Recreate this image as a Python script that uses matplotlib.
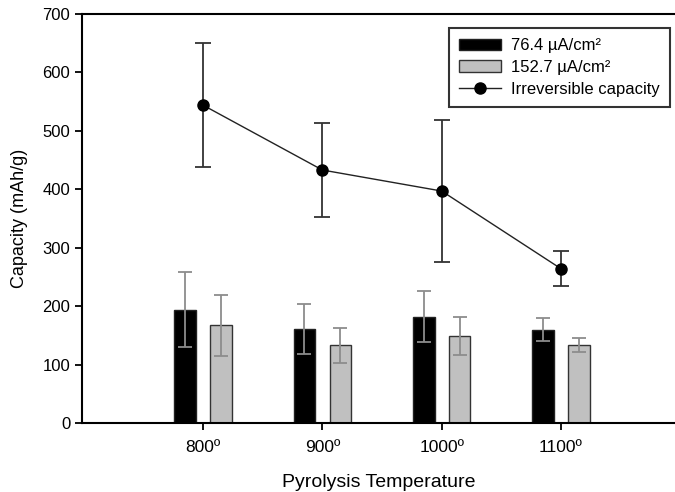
import matplotlib
matplotlib.use("Agg")
import matplotlib.pyplot as plt
import numpy as np

plt.rcParams["font.family"] = ["Liberation Sans", "DejaVu Sans"]

# ── Data ──────────────────────────────────────────────────────────────────────
temps = ["800º", "900º", "1000º", "1100º"]

low_cd = [194, 161, 182, 160]          # 76.4 uA/cm2
low_cd_err = [64, 43, 44, 19]
high_cd = [167, 133, 149, 133]         # 152.7 uA/cm2
high_cd_err = [52, 30, 33, 12]
irrev = [544, 433, 397, 264]           # irreversible capacity
irrev_err = [106, 80, 121, 30]

# ── Figure ────────────────────────────────────────────────────────────────────
fig = plt.figure(figsize=(6.75, 4.92), dpi=100)
ax = fig.add_axes([82 / 675, 1 - 423 / 492, 593 / 675, 409 / 492])

x = np.arange(1, len(temps) + 1)
width = 0.18
off = 0.15

bar_err = dict(ecolor="#8c8c8c", elinewidth=1.3, capsize=5, capthick=1.3)
b1 = ax.bar(x - off, low_cd, width, yerr=low_cd_err, color="black",
            edgecolor="#222222", linewidth=1, error_kw=bar_err,
            label="76.4 µA/cm²", zorder=2)
b2 = ax.bar(x + off, high_cd, width, yerr=high_cd_err, color="#c0c0c0",
            edgecolor="#333333", linewidth=1, error_kw=bar_err,
            label="152.7 µA/cm²", zorder=2)

# irreversible capacity: error bars first, then line + markers (legend shows no bars)
ax.errorbar(x, irrev, yerr=irrev_err, fmt="none", ecolor="#333333",
            elinewidth=1.3, capsize=6, capthick=1.3, zorder=3)
ln, = ax.plot(x, irrev, color="#222222", lw=1, marker="o", markersize=8,
              mfc="black", mec="black", label="Irreversible capacity", zorder=4)

ax.set_xlim(-0.014, 4.955)
ax.set_ylim(0, 700)
ax.set_xticks(x)
ax.set_xticklabels(temps, fontsize=12.5)
ax.set_yticks(np.arange(0, 701, 100))
ax.tick_params(axis="y", labelsize=12, direction="out", length=5, width=1.3)
ax.tick_params(axis="x", direction="out", length=5, width=1.3, pad=7)

for side in ["left", "bottom", "top"]:
    ax.spines[side].set_linewidth(1.5)
ax.spines["right"].set_visible(False)

ax.set_xlabel("Pyrolysis Temperature", fontsize=14, labelpad=14)
ax.set_ylabel("Capacity (mAh/g)", fontsize=13, labelpad=10)

leg = ax.legend(handles=[b1, b2, ln], loc="upper right",
                bbox_to_anchor=(1.005, 0.985), fontsize=12,
                frameon=True, fancybox=False, handlelength=2.5,
                handletextpad=0.6, labelspacing=0.4, borderpad=0.6)
leg.get_frame().set_edgecolor("black")
leg.get_frame().set_linewidth(1.5)

fig.savefig("out.png", dpi=100)
